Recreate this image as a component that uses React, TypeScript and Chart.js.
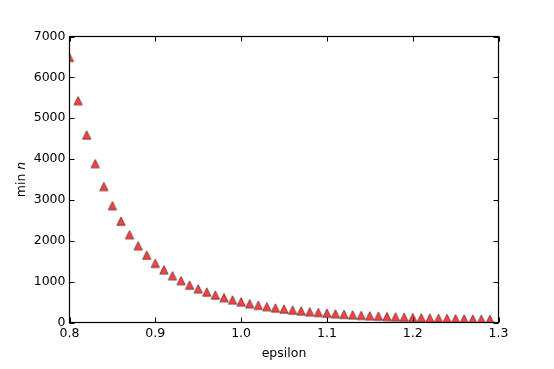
import React, { useEffect, useRef } from "react";
import { Chart, registerables } from "chart.js";

Chart.register(...registerables);

const epsilon: number[] = [
  0.8, 0.81, 0.82, 0.83, 0.84, 0.85, 0.86, 0.87, 0.88, 0.89,
  0.9, 0.91, 0.92, 0.93, 0.94, 0.95, 0.96, 0.97, 0.98, 0.99,
  1.0, 1.01, 1.02, 1.03, 1.04, 1.05, 1.06, 1.07, 1.08, 1.09,
  1.1, 1.11, 1.12, 1.13, 1.14, 1.15, 1.16, 1.17, 1.18, 1.19,
  1.2, 1.21, 1.22, 1.23, 1.24, 1.25, 1.26, 1.27, 1.28, 1.29,
];

const minN: number[] = [
  6490, 5430, 4590, 3890, 3330, 2860, 2480, 2150, 1880, 1650,
  1450, 1290, 1145, 1025, 915, 825, 745, 672, 608, 555,
  505, 460, 422, 388, 357, 330, 305, 283, 263, 245,
  228, 213, 199, 187, 175, 165, 155, 146, 138, 130,
  123, 116, 110, 104, 99, 94, 89, 85, 81, 77,
];

const xTitle = "epsilon";
const yTitleMain = "min ";
const yTitleItalic = "n";

const FONT = "'DejaVu Sans', sans-serif";
const FS = 12.5;

function makeTriangle(): HTMLCanvasElement {
  const c = document.createElement("canvas");
  c.width = 14;
  c.height = 14;
  const ctx = c.getContext("2d")!;
  const h = 4.2;
  ctx.beginPath();
  ctx.moveTo(7, 7 - h);
  ctx.lineTo(7 - h, 7 + h);
  ctx.lineTo(7 + h, 7 + h);
  ctx.closePath();
  ctx.fillStyle = "rgba(255,0,0,0.75)";
  ctx.fill();
  ctx.lineWidth = 0.7;
  ctx.strokeStyle = "rgba(0,0,0,0.75)";
  ctx.stroke();
  return c;
}

const framePlugin = {
  id: "frame",
  afterDatasetsDraw(chart: any) {
    const { ctx, chartArea } = chart;
    const { left, right, top, bottom } = chartArea;
    const xs = chart.scales.x;
    const ys = chart.scales.y;
    ctx.save();
    ctx.strokeStyle = "#000";
    ctx.lineWidth = 1.2;
    ctx.strokeRect(left, top, right - left, bottom - top);
    ctx.lineWidth = 1;
    const tl = 5;
    ctx.beginPath();
    xs.ticks.forEach((t: any) => {
      const px = Math.round(xs.getPixelForValue(t.value)) + 0.5;
      ctx.moveTo(px, bottom);
      ctx.lineTo(px, bottom - tl);
      ctx.moveTo(px, top);
      ctx.lineTo(px, top + tl);
    });
    ys.ticks.forEach((t: any) => {
      const py = Math.round(ys.getPixelForValue(t.value)) + 0.5;
      ctx.moveTo(left, py);
      ctx.lineTo(left + tl, py);
      ctx.moveTo(right, py);
      ctx.lineTo(right - tl, py);
    });
    ctx.stroke();

    // axis titles
    ctx.fillStyle = "#000";
    ctx.textBaseline = "alphabetic";
    ctx.font = `${FS}px ${FONT}`;
    ctx.textAlign = "center";
    ctx.fillText(xTitle, (left + right) / 2, 356.7);

    ctx.save();
    ctx.translate(25.3, (top + bottom) / 2);
    ctx.rotate(-Math.PI / 2);
    ctx.textAlign = "left";
    ctx.font = `${FS}px ${FONT}`;
    const w1 = ctx.measureText(yTitleMain).width;
    ctx.font = `italic ${FS}px ${FONT}`;
    const w2 = ctx.measureText(yTitleItalic).width;
    const start = -(w1 + w2) / 2;
    ctx.font = `${FS}px ${FONT}`;
    ctx.fillText(yTitleMain, start, 0);
    ctx.font = `italic ${FS}px ${FONT}`;
    ctx.fillText(yTitleItalic, start + w1, 0);
    ctx.restore();
    ctx.restore();
  },
};

export default function App() {
  const ref = useRef<HTMLCanvasElement | null>(null);
  useEffect(() => {
    if (!ref.current) return;
    const tri = makeTriangle();
    const chart = new Chart(ref.current, {
      type: "scatter",
      data: {
        datasets: [
          {
            data: epsilon.map((x, i) => ({ x, y: minN[i] })),
            pointStyle: tri as any,
            pointRadius: 5,
            pointHoverRadius: 5,
            clip: 0,
          },
        ],
      },
      options: {
        animation: false,
        responsive: false,
        devicePixelRatio: 1,
        layout: { padding: { top: 36.5, right: 55.5, left: 0, bottom: 0 } },
        plugins: { legend: { display: false }, tooltip: { enabled: false } },
        scales: {
          x: {
            type: "linear",
            min: 0.8,
            max: 1.3,
            grid: { display: false, drawTicks: false },
            border: { display: false },
            ticks: {
              stepSize: 0.1,
              padding: 4,
              color: "#000",
              font: { family: FONT, size: FS },
              callback: (v: any) => Number(v).toFixed(1),
            },
            afterFit: (s: any) => {
              s.height = 46.5;
            },
          },
          y: {
            type: "linear",
            min: 0,
            max: 7000,
            grid: { display: false, drawTicks: false },
            border: { display: false },
            ticks: {
              stepSize: 1000,
              padding: 4,
              color: "#000",
              font: { family: FONT, size: FS },
              callback: (v: any) => String(v),
            },
            afterFit: (s: any) => {
              s.width = 69.5;
            },
          },
        },
      },
      plugins: [framePlugin],
    });
    return () => chart.destroy();
  }, []);
  return (
    <div style={{ position: "fixed", left: 0, top: 0, width: 554, height: 369, background: "#fff" }}>
      <canvas ref={ref} width={554} height={369} style={{ display: "block" }} />
    </div>
  );
}
